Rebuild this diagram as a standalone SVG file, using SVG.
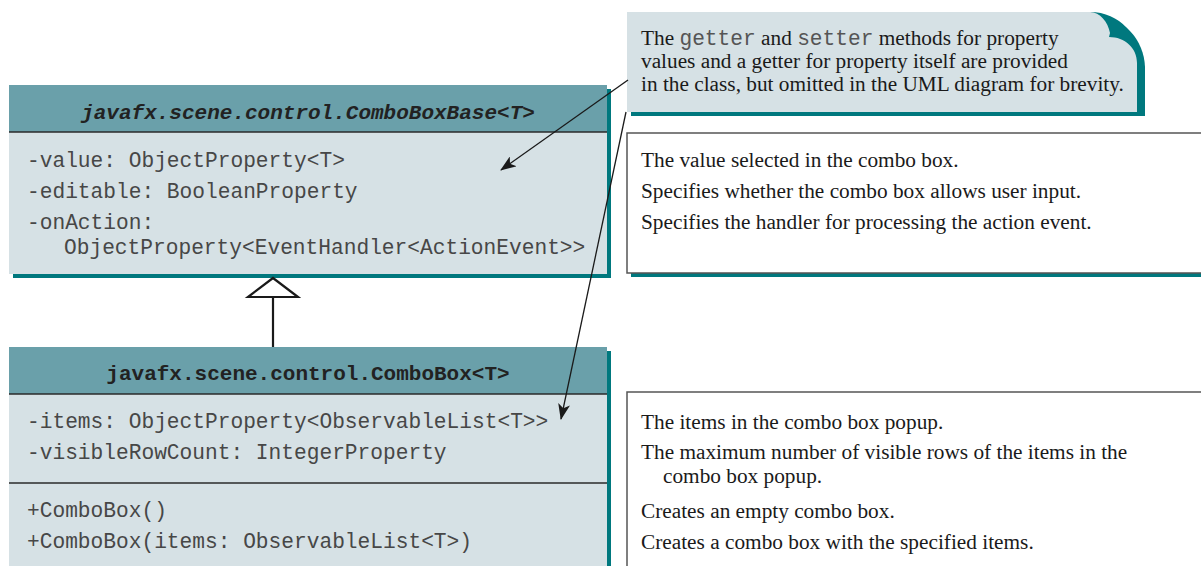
<svg xmlns="http://www.w3.org/2000/svg" width="1201" height="566" viewBox="0 0 1201 566">
<style>
.hdr{fill:#6aa0aa}
.body{fill:#d6e1e5}
.shadow{fill:#00787e}
.sep{stroke:#2a2a2a;stroke-width:1.5;fill:none}
.title{font-family:"Liberation Mono",monospace;font-size:21px;font-weight:bold;fill:#222;text-anchor:middle}
.mono{font-family:"Liberation Mono",monospace;font-size:21.2px;fill:#474747}
.serif{font-family:"Liberation Serif",serif;font-size:21.3px;fill:#1a1a1a}
.desc{fill:#fff;stroke:#555;stroke-width:1.5}
.conn{stroke:#1a1a1a;stroke-width:1.3;fill:none}
</style>
<defs>
<marker id="arr" markerWidth="16" markerHeight="12" refX="15" refY="6" orient="auto" markerUnits="userSpaceOnUse">
<path d="M0,0 L16,6 L0,12 L4,6 Z" fill="#1a1a1a"/>
</marker>
</defs>

<g id="note">
<path class="shadow" d="M631,16 H1094 C1124,16 1144,40 1145,67 V116 H631 Z"/>
<path class="shadow" d="M1090,12 C1120,12 1140,36 1141,63 V112 H1137 V63 Z"/>
<path class="body" d="M627,12 H1090 C1100,12 1108,22 1110,33 L1109,37 C1125,37 1137,48 1137,63 V112 H627 Z"/>
<text class="serif" x="641" y="45">The <tspan class="mono" style="fill:#555">getter</tspan> and <tspan class="mono" style="fill:#555">setter</tspan> methods for property</text>
<text class="serif" x="641" y="68">values and a getter for property itself are provided</text>
<text class="serif" x="641" y="91">in the class, but omitted in the UML diagram for brevity.</text>
</g>

<g id="ComboBoxBase">
<rect class="shadow" x="13" y="89" width="598" height="189"/>
<rect class="body" x="9" y="85" width="598" height="189"/>
<rect class="hdr" x="9" y="85" width="598" height="47"/>
<line class="sep" x1="9" y1="132" x2="607" y2="132"/>
<text class="title" x="308" y="119" font-style="italic">javafx.scene.control.ComboBoxBase&lt;T&gt;</text>
<text class="mono" x="27" y="167">-value: ObjectProperty&lt;T&gt;</text>
<text class="mono" x="27" y="198">-editable: BooleanProperty</text>
<text class="mono" x="27" y="229">-onAction:</text>
<text class="mono" x="64" y="254">ObjectProperty&lt;EventHandler&lt;ActionEvent&gt;&gt;</text>
</g>

<g id="ComboBox">
<rect class="shadow" x="13" y="351" width="598" height="220"/>
<rect class="body" x="9" y="347" width="598" height="224"/>
<rect class="hdr" x="9" y="347" width="598" height="47"/>
<line class="sep" x1="9" y1="394" x2="607" y2="394"/>
<line class="sep" x1="9" y1="483" x2="607" y2="483"/>
<text class="title" x="308" y="380">javafx.scene.control.ComboBox&lt;T&gt;</text>
<text class="mono" x="27" y="428">-items: ObjectProperty&lt;ObservableList&lt;T&gt;&gt;</text>
<text class="mono" x="27" y="459">-visibleRowCount: IntegerProperty</text>
<text class="mono" x="27" y="517">+ComboBox()</text>
<text class="mono" x="27" y="548">+ComboBox(items: ObservableList&lt;T&gt;)</text>
</g>

<g id="desc-ComboBoxBase">
<rect class="shadow" x="631" y="137" width="580" height="140"/>
<rect class="desc" x="627" y="133" width="580" height="140"/>
<text class="serif" x="641" y="167">The value selected in the combo box.</text>
<text class="serif" x="641" y="198">Specifies whether the combo box allows user input.</text>
<text class="serif" x="641" y="229">Specifies the handler for processing the action event.</text>
</g>

<g id="desc-ComboBox">
<rect class="desc" x="627" y="392" width="580" height="190"/>
<text class="serif" x="641" y="429">The items in the combo box popup.</text>
<text class="serif" x="641" y="459">The maximum number of visible rows of the items in the</text>
<text class="serif" x="663" y="483">combo box popup.</text>
<text class="serif" x="641" y="518">Creates an empty combo box.</text>
<text class="serif" x="641" y="549">Creates a combo box with the specified items.</text>
</g>

<g id="connectors">
<line class="conn" x1="273" y1="297" x2="273" y2="347" style="stroke-width:2.2"/>
<path d="M273,278 L248,297 L298,297 Z" fill="#fff" stroke="#1a1a1a" stroke-width="2.2" stroke-linejoin="miter"/>
<line class="conn" x1="628" y1="80" x2="501" y2="170" marker-end="url(#arr)"/>
<line class="conn" x1="626" y1="112" x2="561" y2="419" marker-end="url(#arr)"/>
</g>
</svg>
